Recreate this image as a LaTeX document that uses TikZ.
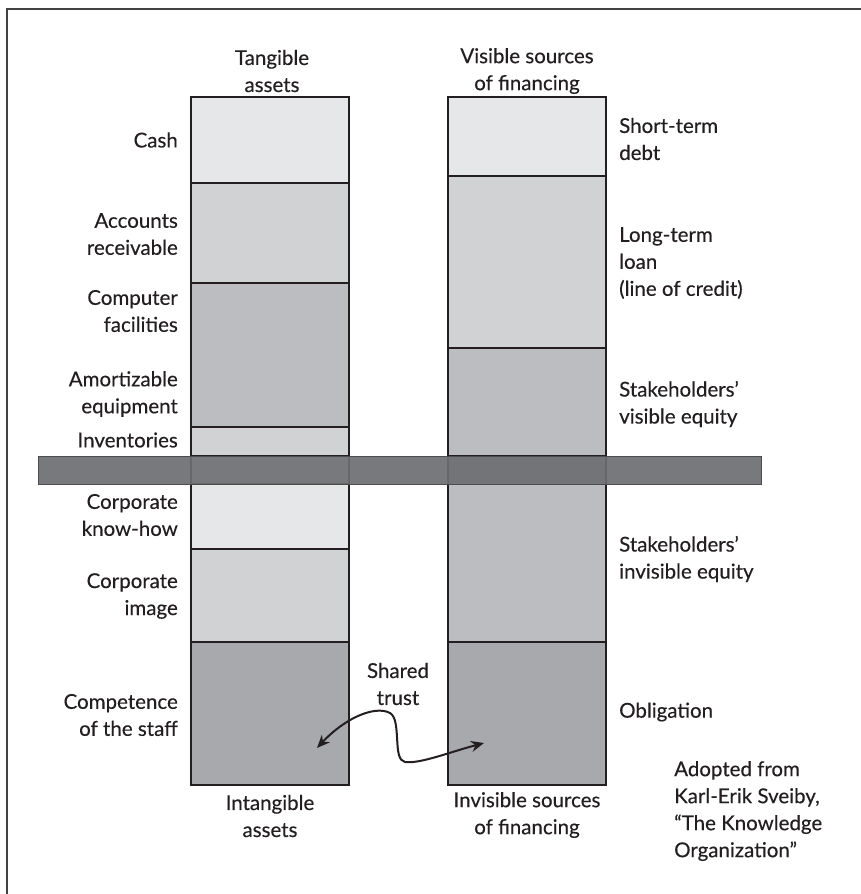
\documentclass[tikz,border=0pt]{standalone}
\usepackage{fontspec}
\setmainfont{Lato}[FakeBold=0.25]
\usetikzlibrary{arrows.meta}
\definecolor{ink}{HTML}{231F20}
\definecolor{shadeA}{HTML}{E6E7E8}
\definecolor{shadeB}{HTML}{D1D2D4}
\definecolor{shadeC}{HTML}{BCBDC0}
\definecolor{shadeD}{HTML}{A7A9AC}
\definecolor{bandgray}{HTML}{6D6E71}
\tikzset{
  cell/.style={draw=ink, line width=2.5pt, anchor=north west, minimum width=158pt,
    inner sep=0pt, outer sep=0pt},
  lbl/.style={text=ink, font=\fontsize{20.5}{27}\selectfont, inner sep=0pt},
  lleft/.style={lbl, anchor=east, align=right},
  lright/.style={lbl, anchor=west, align=left},
  lmid/.style={lbl, align=center},
  link/.style={draw=ink, line width=2pt, {Stealth[length=13pt,width=11pt]}-{Stealth[length=13pt,width=11pt]}},
}
\begin{document}
\begin{tikzpicture}[x=1pt, y=-1pt]
\useasboundingbox (0,0) rectangle (861,894);
\fill[white] (0,0) rectangle (861,894);
% frame
\draw[ink!85, line width=2pt] (7,894) -- (7,9) -- (861,9);

% left column: tangible above, intangible below
\node[cell, fill=shadeA, minimum height=86pt]  (cash) at (191,97) {};
\node[cell, fill=shadeB, minimum height=100pt] (recv) at (191,183) {};
\node[cell, fill=shadeC, minimum height=144pt] (comp) at (191,283) {};
\node[cell, fill=shadeB, minimum height=29pt]  (inv)  at (191,427) {};
\node[cell, fill=shadeA, minimum height=65pt]  (know) at (191,484) {};
\node[cell, fill=shadeB, minimum height=93pt]  (img)  at (191,549) {};
\node[cell, fill=shadeD, minimum height=143pt] (staff) at (191,642) {};
\draw[ink, line width=2.5pt] (191,456) -- (191,484) (349,456) -- (349,484);

% right column: visible above, invisible below
\node[cell, fill=shadeA, minimum height=79pt]  (short) at (448,97) {};
\node[cell, fill=shadeB, minimum height=172pt] (loan)  at (448,176) {};
\node[cell, fill=shadeC, minimum height=108pt] (veq)   at (448,348) {};
\node[cell, fill=shadeC, minimum height=158pt] (ieq)   at (448,484) {};
\node[cell, fill=shadeD, minimum height=143pt] (oblig) at (448,642) {};
\fill[shadeC] (449,456) rectangle (605,484);
\draw[ink, line width=2.5pt] (448,456) -- (448,484) (606,456) -- (606,484);

% the dividing band between visible and invisible
\node[draw=ink!80, line width=1pt, fill=bandgray, fill opacity=0.92, anchor=north west,
  minimum width=723pt, minimum height=28pt, inner sep=0pt] (band) at (38,456) {};

% headings
\node[lmid] (tang)  at (272,71)  {Tangible\\assets};
\node[lmid] (vis)   at (527,71)  {Visible sources\\of financing};
\node[lmid] (intg)  at (270,816) {Intangible\\assets};
\node[lmid] (invis) at (527,815) {Invisible sources\\of financing};

% left labels
\node[lleft] (lcash) at (178,140) {Cash};
\node[lleft] (lrecv) at (178,234) {Accounts\\receivable};
\node[lleft] (lcomp) at (178,311) {Computer\\facilities};
\node[lleft] (lamor) at (178,394) {Amortizable\\equipment};
\node[lleft] (linv)  at (178,440) {Inventories};
\node[lleft] (lknow) at (178,515) {Corporate\\know-how};
\node[lleft] (limg)  at (178,596) {Corporate\\image};
\node[lleft] (lstaff) at (178,715) {Competence\\of the staff};

% right labels
\node[lright] (lshort) at (619,139) {Short-term\\debt};
\node[lright] (lloan)  at (619,263) {Long-term\\loan\\(line of credit)};
\node[lright] (lveq)   at (619,404) {Stakeholders’\\visible equity};
\node[lright] (lieq)   at (619,559) {Stakeholders’\\invisible equity};
\node[lright] (lobl)   at (619,712) {Obligation};
\node[lright] (src)    at (674,811) {Adopted from\\Karl-Erik Sveiby,\\“The Knowledge\\Organization”};

% shared trust link
\node[lmid] (trust) at (398,684) {Shared\\trust};
\coordinate (tl) at (317,748);
\coordinate (tr) at (484,743);
\draw[link] (tl) .. controls (345,718) and (375,705) .. (390,713)
  .. controls (402,720) and (392,760) .. (405,762)
  .. controls (420,764) and (450,752) .. (tr);
\end{tikzpicture}
\end{document}
